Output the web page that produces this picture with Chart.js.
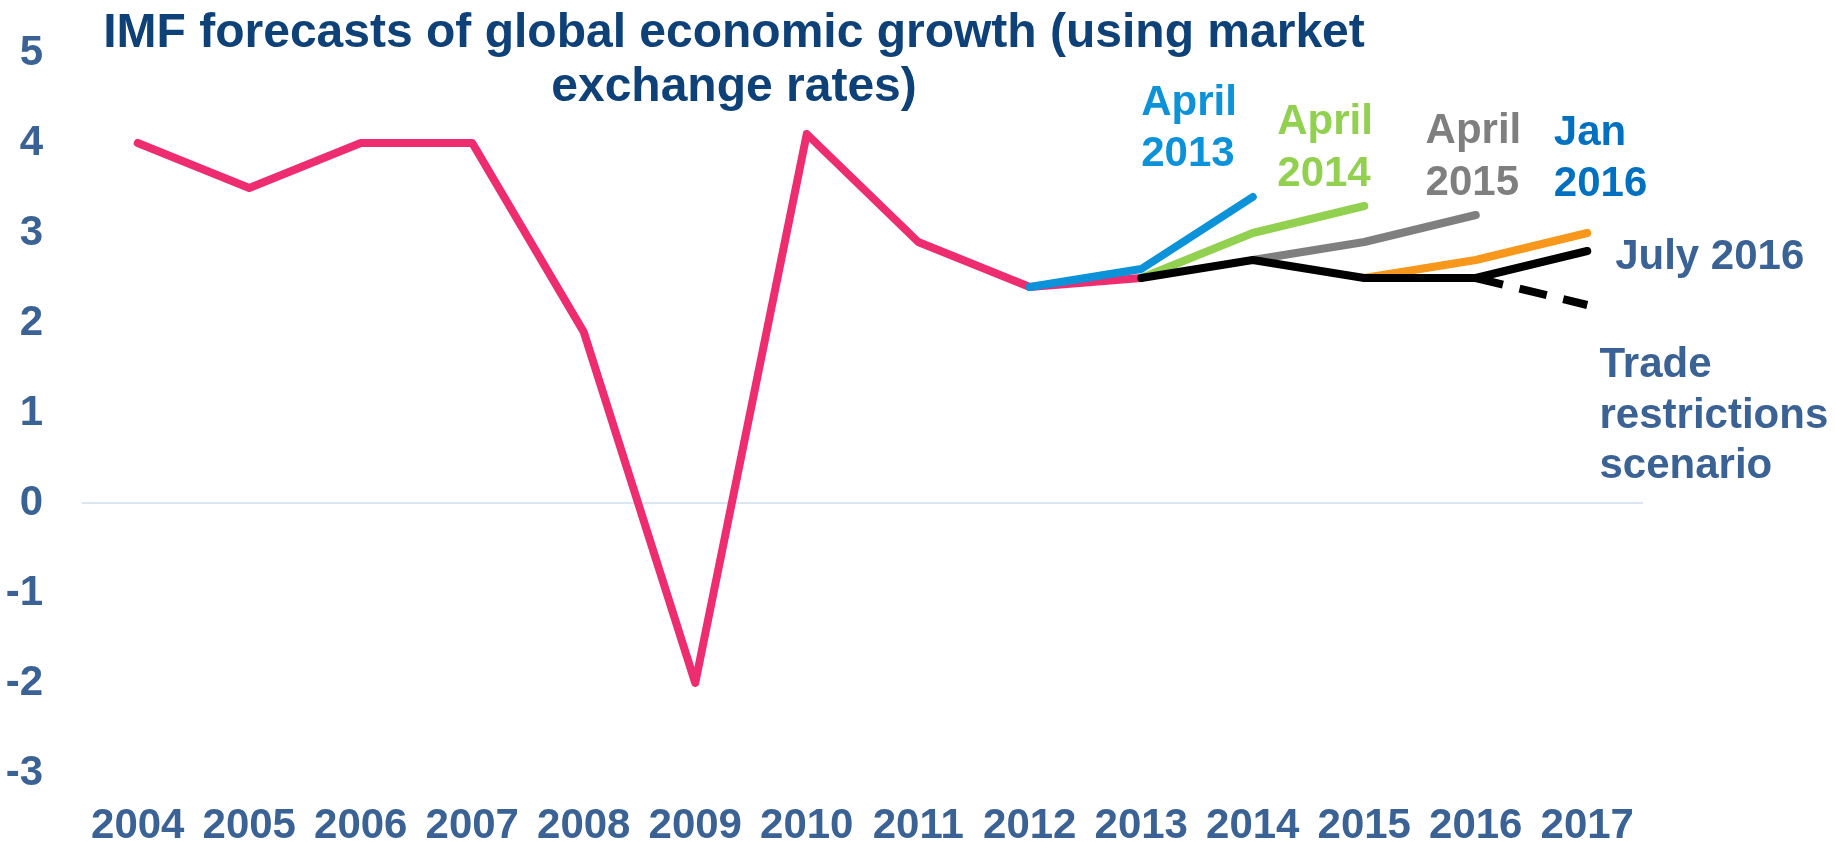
<!DOCTYPE html>
<html>
<head>
<meta charset="utf-8">
<script src="https://cdn.jsdelivr.net/npm/chart.js@4.4.1/dist/chart.umd.min.js"></script>
<style>
  body { margin: 0; background: #fff; }
  #wrap { width: 1835px; height: 842px; }
</style>
</head>
<body>
<div id="wrap"><canvas id="growthChart" width="1835" height="842"></canvas></div>
<script>
// years on the x axis
let years = ["2004", "2005", "2006", "2007", "2008", "2009", "2010", "2011", "2012", "2013", "2014", "2015", "2016", "2017"];

// outturn (pink) and the successive forecasts
let actual     = [4.0, 3.5, 4.0, 4.0, 1.9, -2.0, 4.1, 2.9, 2.4, 2.5, null, null, null, null];
let april2013  = [null, null, null, null, null, null, null, null, 2.4, 2.6, 3.4, null, null, null];
let april2014  = [null, null, null, null, null, null, null, null, null, 2.5, 3.0, 3.3, null, null];
let april2015  = [null, null, null, null, null, null, null, null, null, null, 2.7, 2.9, 3.2, null];
let jan2016    = [null, null, null, null, null, null, null, null, null, null, null, 2.5, 2.7, 3.0];
let july2016   = [null, null, null, null, null, null, null, null, null, 2.5, 2.7, 2.5, 2.5, 2.8];
let tradeRestr = [null, null, null, null, null, null, null, null, null, null, null, null, 2.5, 2.2];

let yTicks = [-3, -2, -1, 0, 1, 2, 3, 4, 5];

let titleLines = ["IMF forecasts of global economic growth (using market", "exchange rates)"];

// text labels beside the lines: x as category index, baselines in px
let notes = [
    { lines: ["April", "2013"], color: "#0B92D8", x: 9.0, base: [115, 166] },
    { lines: ["April", "2014"], color: "#92D050", x: 10.22, base: [134, 186] },
    { lines: ["April", "2015"], color: "#7F7F7F", x: 11.55, base: [143, 195] },
    { lines: ["Jan", "2016"], color: "#0070C0", x: 12.70, base: [145, 196] },
    { lines: ["July 2016"], color: "#3B6294", x: 13.25, base: [269] },
    { lines: ["Trade", "restrictions", "scenario"], color: "#3B6294", x: 13.11, base: [377, 428, 478] }
];

const FONT = "'Liberation Sans', Arial, sans-serif";
const TICK_COLOR = "#3B6294";

function lineSet(label, data, color, order, dash) {
    return {
        label: label,
        data: data,
        borderColor: color,
        backgroundColor: color,
        borderWidth: 8,
        borderDash: dash || [],
        borderCapStyle: dash ? "butt" : "round",
        borderJoinStyle: "round",
        pointRadius: 0,
        pointHoverRadius: 0,
        tension: 0,
        spanGaps: false,
        fill: false,
        order: order
    };
}

const annotate = {
    id: "annotate",
    afterDatasetsDraw(chart) {
        const ctx = chart.ctx;
        const xs = chart.scales.x;
        ctx.save();
        ctx.textBaseline = "alphabetic";

        // title
        ctx.fillStyle = "#0E4178";
        ctx.font = "bold 48px " + FONT;
        ctx.textAlign = "center";
        ctx.fillText(titleLines[0], 734, 47);
        ctx.fillText(titleLines[1], 734, 101);

        // line labels
        ctx.font = "bold 42px " + FONT;
        ctx.textAlign = "left";
        const step = xs.getPixelForValue(1) - xs.getPixelForValue(0);
        notes.forEach(n => {
            const idx = Math.floor(n.x);
            const px = xs.getPixelForValue(idx) + (n.x - idx) * step;
            ctx.fillStyle = n.color;
            n.lines.forEach((t, i) => ctx.fillText(t, px, n.base[i]));
        });
        ctx.restore();
    }
};

new Chart(document.getElementById("growthChart"), {
    type: "line",
    data: {
        labels: years,
        datasets: [
            lineSet("July 2016", july2016, "#000000", 0),
            lineSet("Trade restrictions scenario", tradeRestr, "#000000", 1, [28, 17]),
            lineSet("Jan 2016", jan2016, "#F7971C", 2),
            lineSet("April 2015", april2015, "#7F7F7F", 3),
            lineSet("April 2014", april2014, "#92D050", 4),
            lineSet("April 2013", april2013, "#0B92D8", 5),
            lineSet("Outturn", actual, "#EE2C70", 6)
        ]
    },
    options: {
        responsive: false,
        animation: false,
        devicePixelRatio: 1,
        layout: { padding: { top: 53, right: 192, left: 0, bottom: 0 } },
        plugins: {
            legend: { display: false },
            title: { display: false },
            tooltip: { enabled: false }
        },
        scales: {
            x: {
                offset: true,
                grid: { display: false, drawTicks: false },
                border: { display: false },
                ticks: {
                    color: TICK_COLOR,
                    font: { family: FONT, size: 42, weight: "bold" },
                    maxRotation: 0,
                    autoSkip: false,
                    padding: 28
                },
                afterFit: s => { s.height = 69; s.paddingLeft = 0; s.paddingRight = 0; }
            },
            y: {
                min: -3,
                max: 5,
                afterBuildTicks: s => { s.ticks = yTicks.map(v => ({ value: v })); },
                grid: {
                    drawTicks: false,
                    color: c => (c.tick && c.tick.value === 0 ? "#DCE6F2" : "rgba(0,0,0,0)"),
                    lineWidth: 2
                },
                border: { display: false },
                ticks: {
                    color: TICK_COLOR,
                    font: { family: FONT, size: 42, weight: "bold" },
                    padding: 39
                },
                afterFit: s => { s.width = 82; s.paddingTop = 0; s.paddingBottom = 0; }
            }
        }
    },
    plugins: [annotate]
});
</script>
</body>
</html>
